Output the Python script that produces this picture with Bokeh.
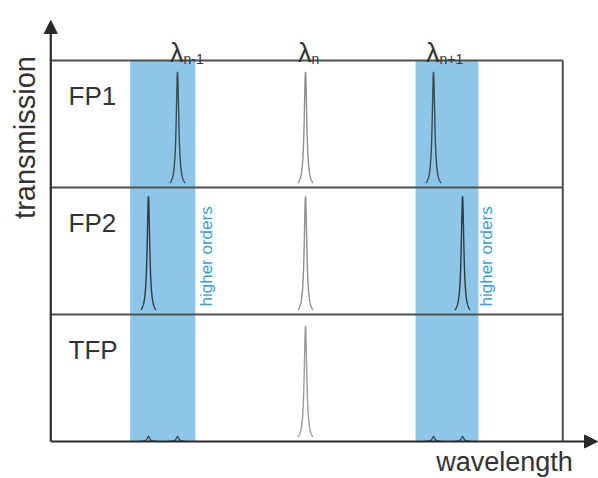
import numpy as np
from bokeh.plotting import figure
from bokeh.models import Range1d, Arrow, NormalHead
from bokeh.core.properties import value
from bokeh.embed import file_html
from bokeh.resources import INLINE

# ---- data (wavelength in units of the FP1 free spectral range, lambda_n = 0) ----
row_names = ["FP1", "FP2", "TFP"]
row_base = [2.0, 1.0, 0.0]          # panel baselines (each panel is one unit tall)

fp1_centers = [-1.0, 0.0, 1.0]
fp1_heights = [0.91, 0.91, 0.91]
fp1_colors = ["#3d4a50", "#8f8f8f", "#3d4a50"]

fp2_centers = [-1.227, 0.0, 1.227]
fp2_heights = [0.93, 0.93, 0.93]
fp2_colors = ["#2f3a40", "#8f8f8f", "#2f3a40"]

tfp_centers = [-1.227, -1.0, 0.0, 1.0, 1.227]
tfp_heights = [0.04, 0.04, 0.91, 0.04, 0.04]
tfp_colors = ["#3d4a50", "#3d4a50", "#9a9a9a", "#3d4a50", "#3d4a50"]

peak_hwhm = 0.012

band_left = [-1.37, 0.86]
band_right = [-0.86, 1.35]

lambda_pos = [-1.0, 0.0, 1.0]
lambda_sub = ["n-1", "n", "n+1"]

higher_x = [-0.773, 1.414]

# ---- figure ----
PX = 128.0   # pixels per x unit
PY = 127.0   # pixels per y unit
x0_page, y0_page = 305.0, 441.0
W, H = 598, 478
xr = Range1d((0 - x0_page) / PX, (W - x0_page) / PX)
yr = Range1d((y0_page - H) / PY, (y0_page) / PY)

p = figure(width=W, height=H, x_range=xr, y_range=yr, output_backend="svg",
           toolbar_location=None, min_border=0)
p.axis.visible = False
p.grid.visible = False
p.outline_line_color = None
p.background_fill_color = "white"

box_left = -1.99
box_right = 2.01
box_top = 3.0

# blue bands
p.quad(left=band_left, right=band_right, bottom=[0, 0], top=[box_top, box_top],
       fill_color="#8ec6e8", line_color=None)

# peaks (Lorentzian line shapes)
def draw_peaks(centers, heights, colors, base, width=1.4):
    for c, h, col in zip(centers, heights, colors):
        xs = np.linspace(c - 0.06, c + 0.06, 301)
        ys = base + h * peak_hwhm**2 / ((xs - c) ** 2 + peak_hwhm**2)
        p.line(xs, ys, line_color=col, line_width=width)

draw_peaks(fp1_centers, fp1_heights, fp1_colors, row_base[0])
draw_peaks(fp2_centers, fp2_heights, fp2_colors, row_base[1])
draw_peaks(tfp_centers, tfp_heights, tfp_colors, row_base[2])

# panel frame
box_col = "#505050"
for yb in [1.0, 2.0, 3.0]:
    p.segment(x0=[box_left], y0=[yb], x1=[box_right], y1=[yb], line_color=box_col, line_width=2)
p.segment(x0=[box_right], y0=[0], x1=[box_right], y1=[box_top], line_color=box_col, line_width=2)

# axes with arrows
ax_col = "#2a2a2a"
p.add_layout(Arrow(end=NormalHead(size=13, fill_color=ax_col, line_color=ax_col),
                   x_start=box_left, y_start=0, x_end=box_left, y_end=(y0_page - 20) / PY,
                   line_color=ax_col, line_width=2.2))
p.add_layout(Arrow(end=NormalHead(size=13, fill_color=ax_col, line_color=ax_col),
                   x_start=box_left, y_start=0, x_end=(597 - x0_page) / PX, y_end=0,
                   line_color=ax_col, line_width=2.2))

font = value("Liberation Sans")

# row labels
p.text(x=[(68 - x0_page) / PX] * 3, y=[b + 1 - 0.283 for b in row_base], text=row_names,
       text_font=font, text_font_size="26px", text_color="#333333",
       text_align="left", text_baseline="alphabetic")

# lambda labels
p.text(x=lambda_pos, y=[(y0_page - 52) / PY] * 3, text=["λ"] * 3, x_offset=6,
       text_font=font, text_font_size="27px", text_color="#333333",
       text_align="right", text_baseline="alphabetic")
p.text(x=lambda_pos, y=[(y0_page - 58) / PY] * 3, text=lambda_sub, x_offset=6,
       text_font=font, text_font_size="14px", text_color="#333333",
       text_align="left", text_baseline="alphabetic")

# higher orders
p.text(x=higher_x, y=[(y0_page - 306) / PY] * 2, text=["higher orders"] * 2, angle=np.pi / 2,
       text_font=font, text_font_size="17px", text_color="#3a9fd9",
       text_align="left", text_baseline="middle")

# axis titles
p.text(x=[(24 - x0_page) / PX], y=[(y0_page - 137) / PY], text=["transmission"], angle=np.pi / 2,
       text_font=font, text_font_size="29px", text_color="#333333",
       text_align="center", text_baseline="middle")
p.text(x=[(504 - x0_page) / PX], y=[(y0_page - 461) / PY], text=["wavelength"],
       text_font=font, text_font_size="27px", text_color="#333333",
       text_align="center", text_baseline="alphabetic")

open("out.html", "w").write(file_html(p, INLINE))
